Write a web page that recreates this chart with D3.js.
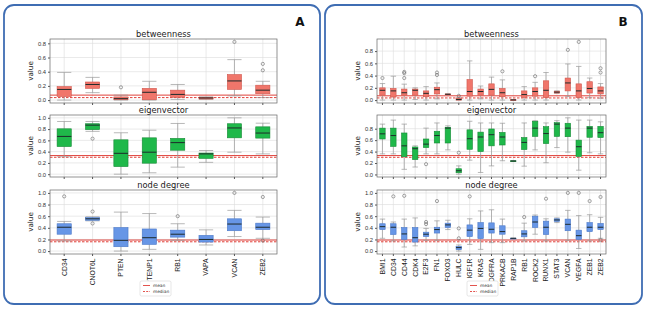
<!DOCTYPE html>
<html>
<head>
<meta charset="utf-8">
<script src="https://cdn.jsdelivr.net/npm/d3@7"></script>
<style>
  body { margin: 0; background: #fff; }
  svg { display: block; font-family: "DejaVu Sans", sans-serif; }
</style>
</head>
<body>
<svg id="chart" width="646" height="311"></svg>
<script>
// Categories for each panel.
const catsA = ["CD34", "CNOT6L", "PTEN", "PTENP1", "RB1", "VAPA", "VCAN", "ZEB2"];
const catsB = ["BMI1", "CD34", "CD44", "CDK4", "E2F3", "FN1", "FOXO3", "HULC", "IGF1R", "KRAS",
  "PDGFRA", "PRKACB", "RAP1B", "RB1", "ROCK2", "RUNX1", "STAT3", "VCAN", "VEGFA", "ZEB1", "ZEB2"];

// Box stats per category: [whisker low, q1, median, q3, whisker high].
const btwA = [[0.0, 0.05, 0.15, 0.19, 0.39], [0.105, 0.165, 0.22, 0.255, 0.32], [0.0, 0.005, 0.02, 0.045, 0.07],
  [0.0, 0.005, 0.11, 0.165, 0.265], [0.01, 0.04, 0.08, 0.14, 0.22], [0.01, 0.015, 0.03, 0.04, 0.045],
  [0.06, 0.15, 0.27, 0.36, 0.57], [0.035, 0.09, 0.14, 0.21, 0.265]];
const btwAOut = [[], [], [0.18], [], [], [], [0.82], [0.51, 0.42]];

const eigA = [[0.31, 0.49, 0.67, 0.805, 0.935], [0.76, 0.79, 0.87, 0.895, 0.935], [0.0, 0.135, 0.37, 0.61, 0.735],
  [0.025, 0.195, 0.39, 0.645, 0.78], [0.125, 0.425, 0.56, 0.635, 0.9], [0.21, 0.28, 0.36, 0.375, 0.42],
  [0.39, 0.645, 0.82, 0.895, 1.0], [0.36, 0.64, 0.73, 0.84, 0.905]];
const eigAOut = [[], [0.63], [], [], [], [], [], []];

const degA = [[0.175, 0.29, 0.41, 0.47, 0.51], [0.52, 0.53, 0.555, 0.575, 0.59], [0.0, 0.075, 0.185, 0.405, 0.67],
  [0.03, 0.115, 0.23, 0.38, 0.645], [0.185, 0.24, 0.29, 0.36, 0.47], [0.105, 0.155, 0.2, 0.27, 0.365],
  [0.25, 0.35, 0.465, 0.555, 0.7], [0.22, 0.37, 0.41, 0.48, 0.585]];
const degAOut = [[0.94], [0.68, 0.475], [], [], [0.6], [], [1.0], [0.93, 0.18]];

const btwB = [[0.0, 0.08, 0.16, 0.2, 0.27], [0.0, 0.05, 0.15, 0.19, 0.39], [0.0, 0.08, 0.12, 0.18, 0.26],
  [0.01, 0.08, 0.16, 0.18, 0.2], [0.0, 0.055, 0.11, 0.15, 0.22], [0.02, 0.1, 0.17, 0.21, 0.28],
  [0.09, 0.09, 0.095, 0.1, 0.1], [0.0, 0.0, 0.01, 0.03, 0.04], [0.0, 0.065, 0.14, 0.335, 0.64],
  [0.02, 0.08, 0.14, 0.18, 0.23], [0.0, 0.08, 0.175, 0.265, 0.375], [0.0, 0.055, 0.12, 0.19, 0.33],
  [0.0, 0.0, 0.003, 0.005, 0.005], [0.0, 0.045, 0.09, 0.15, 0.22], [0.0, 0.065, 0.14, 0.2, 0.29],
  [0.0, 0.04, 0.16, 0.315, 0.45], [0.11, 0.115, 0.13, 0.145, 0.15], [0.06, 0.15, 0.28, 0.36, 0.59],
  [0.0, 0.04, 0.15, 0.265, 0.55], [0.04, 0.115, 0.19, 0.3, 0.36], [0.03, 0.1, 0.15, 0.215, 0.27]];
const btwBOut = [[0.36], [], [0.46, 0.44, 0.36], [], [], [0.45, 0.41], [], [0.07], [], [], [], [0.47], [], [],
  [0.39], [], [], [0.82], [0.95], [], [0.52, 0.45]];

const eigB = [[0.36, 0.62, 0.71, 0.81, 0.88], [0.36, 0.49, 0.68, 0.81, 0.95], [0.09, 0.31, 0.5, 0.725, 0.88],
  [0.13, 0.26, 0.45, 0.48, 0.5], [0.36, 0.47, 0.53, 0.62, 0.81], [0.36, 0.55, 0.68, 0.755, 0.9],
  [0.43, 0.55, 0.81, 0.825, 0.85], [0.005, 0.03, 0.065, 0.1, 0.15], [0.25, 0.44, 0.625, 0.78, 0.93],
  [0.035, 0.4, 0.655, 0.74, 0.9], [0.15, 0.5, 0.695, 0.795, 0.9], [0.24, 0.515, 0.655, 0.735, 0.895],
  [0.23, 0.232, 0.235, 0.238, 0.24], [0.145, 0.435, 0.56, 0.645, 0.9], [0.43, 0.665, 0.81, 0.93, 0.94],
  [0.205, 0.54, 0.715, 0.835, 0.9], [0.47, 0.665, 0.88, 0.905, 0.94], [0.39, 0.66, 0.81, 0.895, 0.99],
  [0.075, 0.315, 0.485, 0.6, 0.95], [0.38, 0.65, 0.81, 0.84, 0.95], [0.36, 0.645, 0.73, 0.84, 0.92]];
const eigBOut = [[], [], [], [], [0.18], [], [], [0.38], [], [], [], [], [], [], [], [], [], [], [], [], []];

const degB = [[0.22, 0.37, 0.42, 0.47, 0.55], [0.175, 0.285, 0.41, 0.47, 0.5], [0.07, 0.2, 0.295, 0.405, 0.55],
  [0.09, 0.155, 0.23, 0.405, 0.57], [0.185, 0.25, 0.29, 0.325, 0.39], [0.185, 0.31, 0.37, 0.41, 0.52],
  [0.37, 0.405, 0.45, 0.48, 0.53], [0.0, 0.025, 0.06, 0.08, 0.105], [0.115, 0.25, 0.36, 0.45, 0.555],
  [0.03, 0.215, 0.39, 0.49, 0.69], [0.145, 0.31, 0.375, 0.485, 0.71], [0.145, 0.29, 0.335, 0.435, 0.55],
  [0.218, 0.219, 0.22, 0.221, 0.222], [0.175, 0.245, 0.295, 0.35, 0.48], [0.29, 0.405, 0.5, 0.6, 0.62],
  [0.175, 0.285, 0.41, 0.515, 0.555], [0.49, 0.51, 0.535, 0.555, 0.57], [0.185, 0.35, 0.46, 0.55, 0.7],
  [0.045, 0.2, 0.265, 0.36, 0.61], [0.175, 0.335, 0.41, 0.49, 0.625], [0.22, 0.37, 0.41, 0.475, 0.58]];
const degBOut = [[], [0.94], [0.95], [], [0.5, 0.465], [0.86], [], [0.39, 0.22], [0.94], [], [], [], [], [0.585],
  [], [0.9], [], [1.0], [1.0], [0.86], [0.93, 0.19]];

// Reference lines: [mean, median] per metric.
const refBtw = [0.07, 0.035];
const refEig = [0.33, 0.30];
const refDeg = [0.19, 0.16];

const metrics = ["betweenness", "eigenvector", "node degree"];
const fills = { "betweenness": "#f0766b", "eigenvector": "#1fb84a", "node degree": "#6796e6" };
const edges = { "betweenness": "#d0564c", "eigenvector": "#158a35", "node degree": "#4a78c8" };
const refs = { "betweenness": refBtw, "eigenvector": refEig, "node degree": refDeg };

const panels = [
  { letter: "A", cats: catsA, x0: 50, x1: 277, border: [4, 5, 316, 299], letterX: 300, ylabX: 33, legendX: 140,
    stats: { "betweenness": btwA, "eigenvector": eigA, "node degree": degA },
    outs: { "betweenness": btwAOut, "eigenvector": eigAOut, "node degree": degAOut } },
  { letter: "B", cats: catsB, x0: 377, x1: 606, border: [325, 5, 317, 299], letterX: 623, ylabX: 360, legendX: 467,
    stats: { "betweenness": btwB, "eigenvector": eigB, "node degree": degB },
    outs: { "betweenness": btwBOut, "eigenvector": eigBOut, "node degree": degBOut } }
];

// Vertical layout of the three plots in each panel.
const rows = [
  { top: 39, bottom: 103, titleY: 37 },
  { top: 115, bottom: 177, titleY: 113 },
  { top: 190, bottom: 254, titleY: 188 }
];

const svg = d3.select("#chart");

panels.forEach(p => {
  // Rounded panel border.
  svg.append("rect")
    .attr("x", p.border[0]).attr("y", p.border[1])
    .attr("width", p.border[2]).attr("height", p.border[3])
    .attr("rx", 10)
    .attr("fill", "none")
    .attr("stroke", "#3f6db3")
    .attr("stroke-width", 1.8);

  svg.append("text")
    .attr("x", p.letterX).attr("y", 26)
    .attr("text-anchor", "middle")
    .style("font-size", "12px")
    .style("font-weight", "bold")
    .attr("fill", "#111")
    .text(p.letter);

  const x = d3.scaleBand()
    .domain(p.cats)
    .range([p.x0, p.x1]);
  const boxW = x.bandwidth() * 0.5;

  metrics.forEach((m, mi) => {
    const r = rows[mi];
    const stats = p.stats[m];
    const outs = p.outs[m];
    // y domain like matplotlib: data extent with 5% margins.
    const lo = Math.min(d3.min(stats, d => d[0]), d3.min(outs.flat()) ?? Infinity);
    const hi = Math.max(d3.max(stats, d => d[4]), d3.max(outs.flat()) ?? -Infinity);
    const pad = (hi - lo) * 0.05;
    const y = d3.scaleLinear().domain([lo - pad, hi + pad]).range([r.bottom, r.top]);

    const g = svg.append("g");
    const ticks = d3.range(0, hi + 0.001, 0.2).filter(t => t <= hi + pad);

    // Grid.
    g.selectAll("line.gy").data(ticks).enter().append("line")
      .attr("x1", p.x0).attr("x2", p.x1)
      .attr("y1", d => y(d)).attr("y2", d => y(d))
      .attr("stroke", "#dcdcdc").attr("stroke-width", 0.6);
    g.selectAll("line.gx").data(p.cats).enter().append("line")
      .attr("x1", d => x(d) + x.bandwidth() / 2).attr("x2", d => x(d) + x.bandwidth() / 2)
      .attr("y1", r.top).attr("y2", r.bottom)
      .attr("stroke", "#dcdcdc").attr("stroke-width", 0.6);

    // Axes.
    const yAxis = g.append("g")
      .attr("transform", `translate(${p.x0},0)`)
      .call(d3.axisLeft(y).tickValues(ticks).tickFormat(d3.format(".1f")).tickSize(2).tickPadding(2));
    yAxis.select(".domain").remove();
    yAxis.selectAll("text").style("font-size", "5.8px").attr("fill", "#333");
    yAxis.selectAll("line").attr("stroke", "#555");

    const xAxis = g.append("g")
      .attr("transform", `translate(0,${r.bottom})`)
      .call(d3.axisBottom(x).tickSize(2).tickFormat(mi === 2 ? (d => d) : () => ""));
    xAxis.select(".domain").remove();
    xAxis.selectAll("line").attr("stroke", "#555");
    if (mi === 2) {
      xAxis.selectAll("text")
        .attr("transform", "rotate(-90)")
        .attr("x", -4.5).attr("y", 0).attr("dy", "0.35em")
        .style("text-anchor", "end")
        .style("font-size", "6.8px")
        .attr("fill", "#222");
    }

    // Mean and median reference lines.
    const ref = refs[m];
    g.append("line")
      .attr("x1", p.x0).attr("x2", p.x1)
      .attr("y1", y(ref[0])).attr("y2", y(ref[0]))
      .attr("stroke", "#e0413a").attr("stroke-width", 1);
    g.append("line")
      .attr("x1", p.x0).attr("x2", p.x1)
      .attr("y1", y(ref[1])).attr("y2", y(ref[1]))
      .attr("stroke", "#e0413a").attr("stroke-width", 1)
      .attr("stroke-dasharray", "2.5,1.5");

    // Boxes.
    const box = g.selectAll("g.box").data(stats).enter().append("g")
      .attr("transform", (d, i) => `translate(${x(p.cats[i]) + x.bandwidth() / 2},0)`);
    box.append("line")
      .attr("y1", d => y(d[0])).attr("y2", d => y(d[1]))
      .attr("stroke", "#9a9a9a").attr("stroke-width", 0.7);
    box.append("line")
      .attr("y1", d => y(d[3])).attr("y2", d => y(d[4]))
      .attr("stroke", "#9a9a9a").attr("stroke-width", 0.7);
    [0, 4].forEach(k => {
      box.append("line")
        .attr("x1", -boxW / 2).attr("x2", boxW / 2)
        .attr("y1", d => y(d[k])).attr("y2", d => y(d[k]))
        .attr("stroke", "#9a9a9a").attr("stroke-width", 0.7);
    });
    box.append("rect")
      .attr("x", -boxW / 2).attr("width", boxW)
      .attr("y", d => y(d[3]))
      .attr("height", d => Math.max(0.8, y(d[1]) - y(d[3])))
      .attr("fill", fills[m])
      .attr("stroke", edges[m]).attr("stroke-width", 0.6);
    box.append("line")
      .attr("x1", -boxW / 2).attr("x2", boxW / 2)
      .attr("y1", d => y(d[2])).attr("y2", d => y(d[2]))
      .attr("stroke", "#1e2a2a").attr("stroke-width", 1);

    // Outliers.
    outs.forEach((arr, i) => {
      g.selectAll(null).data(arr).enter().append("circle")
        .attr("cx", x(p.cats[i]) + x.bandwidth() / 2)
        .attr("cy", d => y(d))
        .attr("r", 1.6)
        .attr("fill", "none")
        .attr("stroke", "#666").attr("stroke-width", 0.6);
    });

    // Frame.
    g.append("rect")
      .attr("x", p.x0).attr("y", r.top)
      .attr("width", p.x1 - p.x0).attr("height", r.bottom - r.top)
      .attr("fill", "none").attr("stroke", "#666").attr("stroke-width", 0.7);

    // Title and y label.
    svg.append("text")
      .attr("x", (p.x0 + p.x1) / 2).attr("y", r.titleY)
      .attr("text-anchor", "middle")
      .style("font-size", "8.3px").attr("fill", "#222")
      .text(m);
    svg.append("text")
      .attr("transform", `translate(${p.ylabX},${(r.top + r.bottom) / 2}) rotate(-90)`)
      .attr("text-anchor", "middle")
      .style("font-size", "7.2px").attr("fill", "#222")
      .text("value");
  });

  // Legend.
  const lg = svg.append("g").attr("transform", `translate(${p.legendX},281)`);
  lg.append("rect")
    .attr("width", 31).attr("height", 15).attr("rx", 1.5)
    .attr("fill", "#fff").attr("stroke", "#ccc").attr("stroke-width", 0.5);
  [["mean", null], ["median", "2,1.2"]].forEach((e, i) => {
    const yy = 4.5 + i * 6;
    lg.append("line")
      .attr("x1", 3).attr("x2", 10).attr("y1", yy).attr("y2", yy)
      .attr("stroke", "#e0413a").attr("stroke-width", 0.9)
      .attr("stroke-dasharray", e[1]);
    lg.append("text")
      .attr("x", 13).attr("y", yy).attr("dy", "0.35em")
      .style("font-size", "4.3px").attr("fill", "#333")
      .text(e[0]);
  });
});
</script>
</body>
</html>
